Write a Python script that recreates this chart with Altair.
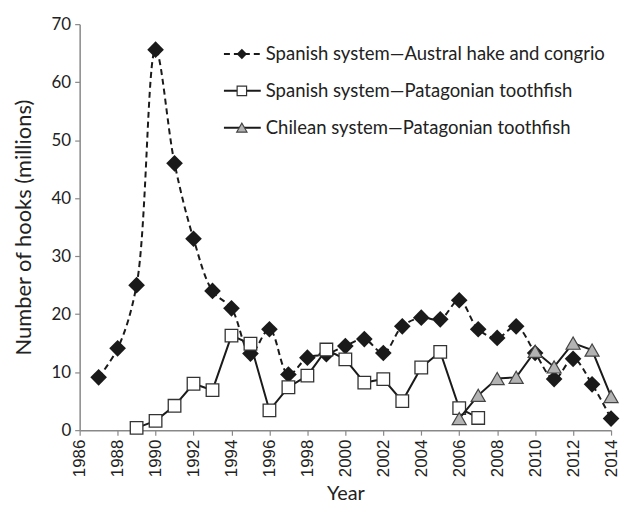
import altair as alt
import pandas as pd

series_names = [
    "Spanish system\u2014Austral hake and congrio",
    "Spanish system\u2014Patagonian toothfish",
    "Chilean system\u2014Patagonian toothfish",
]

years_hake = list(range(1987, 2015))
hake = [9.1, 14.1, 25.0, 65.6, 46.0, 33.0, 24.0, 21.0, 13.2, 17.4,
        9.6, 12.5, 13.1, 14.5, 15.7, 13.3, 17.9, 19.4, 19.1, 22.4,
        17.4, 15.9, 17.9, 13.3, 8.8, 12.3, 7.9, 2.0]

years_tooth_es = list(range(1989, 2008))
tooth_es = [0.4, 1.6, 4.2, 8.0, 6.9, 16.3, 14.9, 3.4, 7.4, 9.4,
            13.9, 12.2, 8.2, 8.8, 5.0, 10.8, 13.5, 3.8, 2.1]

years_tooth_cl = list(range(2006, 2015))
tooth_cl = [2.0, 6.0, 8.9, 9.1, 13.6, 10.9, 15.0, 13.8, 5.8]

x_ticks = list(range(1986, 2015, 2))
y_ticks = list(range(0, 71, 10))

df_hake = pd.DataFrame({"Year": years_hake, "Hooks": hake})
df_es = pd.DataFrame({"Year": years_tooth_es, "Hooks": tooth_es})
df_cl = pd.DataFrame({"Year": years_tooth_cl, "Hooks": tooth_cl})

FONT = "Lato"
INK = "#1a1a1a"
TXT = "#222222"

x_enc = alt.X("Year:Q",
              scale=alt.Scale(domain=[1986, 2014], nice=False, zero=False),
              axis=alt.Axis(values=x_ticks, format="d", labelAngle=-90,
                            labelFont="Liberation Sans", labelFontSize=17,
                            title="Year", titlePadding=7, labelPadding=4,
                            titleFontSize=20))
y_enc = alt.Y("Hooks:Q",
              scale=alt.Scale(domain=[0, 70], nice=False),
              axis=alt.Axis(values=y_ticks, title="Number of hooks (millions)",
                            titlePadding=16, labelPadding=4, titleFontSize=22))

hake_line = alt.Chart(df_hake).mark_line(
    color=INK, strokeWidth=2, strokeDash=[6, 4], interpolate="catmull-rom"
).encode(x=x_enc, y=y_enc)
hake_pts = alt.Chart(df_hake).mark_point(
    shape="diamond", filled=True, color=INK, size=280, opacity=1
).encode(x=x_enc, y=y_enc)

es_line = alt.Chart(df_es).mark_line(color=INK, strokeWidth=2).encode(x=x_enc, y=y_enc)
es_pts = alt.Chart(df_es).mark_point(
    shape="square", filled=True, fill="white", stroke="#333333", strokeWidth=1.3,
    size=160, opacity=1
).encode(x=x_enc, y=y_enc)

cl_line = alt.Chart(df_cl).mark_line(color=INK, strokeWidth=2).encode(x=x_enc, y=y_enc)
cl_pts = alt.Chart(df_cl).mark_point(
    shape="triangle-up", filled=True, fill="#b3b3b3", stroke="#444444", strokeWidth=1.2,
    size=200, opacity=1
).encode(x=x_enc, y=y_enc)

# manual legend (top right, inside plot)
legend_layers = []
rows_y = [30, 67, 104]
sym_specs = [
    dict(shape="diamond", filled=True, color=INK, size=110, opacity=1),
    dict(shape="square", filled=True, fill="white", stroke="#333333", strokeWidth=1.2, size=90, opacity=1),
    dict(shape="triangle-up", filled=True, fill="#b3b3b3", stroke="#444444", strokeWidth=1.1, size=110, opacity=1),
]
for i, name in enumerate(series_names):
    ry = rows_y[i]
    rule_kwargs = dict(color=INK, strokeWidth=2)
    if i == 0:
        rule_kwargs["strokeDash"] = [6, 4]
    base = alt.Chart(df_hake.head(1))
    legend_layers.append(
        base.mark_rule(**rule_kwargs).encode(x=alt.value(145), x2=alt.value(182), y=alt.value(ry))
    )
    legend_layers.append(
        base.mark_point(**sym_specs[i]).encode(x=alt.value(163), y=alt.value(ry))
    )
    legend_layers.append(
        base.mark_text(align="left", baseline="middle", font=FONT, fontSize=18.6, color=TXT)
        .encode(x=alt.value(187), y=alt.value(ry), text=alt.value(name))
    )

chart = alt.layer(
    hake_line, hake_pts, es_line, es_pts, cl_line, cl_pts, *legend_layers
).properties(
    width=534, height=408,
    padding={"left": 72, "top": 15, "right": 10, "bottom": 76},
    autosize=alt.AutoSizeParams(type="none"),
).configure_view(stroke=None).configure_axis(
    grid=False, domainColor="#888888", tickColor="#888888", domainWidth=1.5,
    tickWidth=1.2, tickSize=5,
    labelFont=FONT, labelFontSize=17, labelColor=TXT,
    titleFont=FONT, titleFontWeight="normal", titleColor=TXT,
)

chart.save("out.html", embed_options={"renderer": "svg", "actions": False})
